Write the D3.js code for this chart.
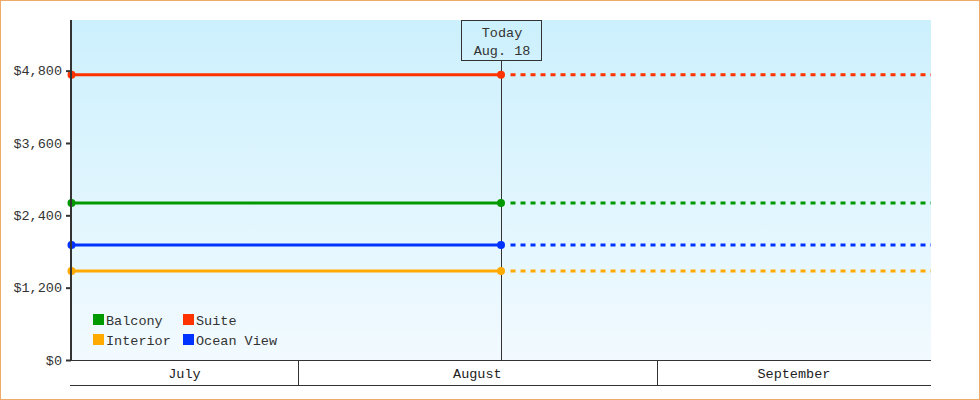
<!DOCTYPE html>
<html>
<head>
<meta charset="utf-8">
<script src="https://cdn.jsdelivr.net/npm/d3@7"></script>
<style>
  html, body { margin: 0; padding: 0; background: #fff; }
  svg { display: block; font-family: "Liberation Mono", monospace; }
</style>
</head>
<body>
<svg id="chart" width="980" height="400"></svg>
<script>
// data
const seriesNames = ['Balcony', 'Suite', 'Interior', 'Ocean View'];
const seriesColors = ['#009900', '#ff3300', '#ffaa00', '#0033ff'];
const seriesPrices = [2605, 4730, 1478, 1908];
const startDate = new Date(2023, 6, 12, 10);
const todayDate = new Date(2023, 7, 18, 12);
const endDate = new Date(2023, 8, 24, 16);
const yTicks = [0, 1200, 2400, 3600, 4800];
const months = [new Date(2023, 6, 1), new Date(2023, 7, 1), new Date(2023, 8, 1), new Date(2023, 9, 1)];
const todayLabel = ['Today', 'Aug. 18'];

const width = 980, height = 400;
const margin = { top: 20, right: 49, bottom: 40, left: 71 };
const font = '"Liberation Mono", monospace';
const svg = d3.select('#chart');

// outer border
svg.append('rect')
  .attr('x', 0.5).attr('y', 0.5)
  .attr('width', width - 1).attr('height', height - 1)
  .attr('fill', '#fff')
  .attr('stroke', '#eeaa66');

const x = d3.scaleTime()
  .domain([startDate, endDate])
  .range([margin.left, width - margin.right]);

const y = d3.scaleLinear()
  .domain([0, 5640])
  .range([height - margin.bottom, margin.top]);

// background gradient
const grad = svg.append('defs').append('linearGradient')
  .attr('id', 'bg').attr('x1', 0).attr('y1', 0).attr('x2', 0).attr('y2', 1);
grad.append('stop').attr('offset', '0%').attr('stop-color', '#ccf0fd');
grad.append('stop').attr('offset', '100%').attr('stop-color', '#f2faff');

svg.append('rect')
  .attr('x', margin.left).attr('y', margin.top)
  .attr('width', width - margin.right - margin.left)
  .attr('height', height - margin.bottom - margin.top)
  .attr('fill', 'url(#bg)');

// today marker
const tx = Math.round(x(todayDate));
svg.append('line')
  .attr('x1', tx + 0.5).attr('x2', tx + 0.5)
  .attr('y1', 60).attr('y2', y(0))
  .attr('stroke', '#333').attr('stroke-width', 1);

svg.append('rect')
  .attr('x', tx - 39.5).attr('y', margin.top + 0.5)
  .attr('width', 80).attr('height', 40)
  .attr('fill', 'none').attr('stroke', '#333');

svg.append('text')
  .attr('x', tx + 1).attr('y', 37)
  .attr('text-anchor', 'middle')
  .attr('font-size', 13.5).attr('fill', '#333')
  .text(todayLabel[0]);
svg.append('text')
  .attr('x', tx + 1).attr('y', 55)
  .attr('text-anchor', 'middle')
  .attr('font-size', 13.5).attr('fill', '#333')
  .text(todayLabel[1]);

// series
seriesNames.forEach((name, i) => {
  const py = y(seriesPrices[i]);
  svg.append('line')
    .attr('x1', x(startDate)).attr('x2', x(todayDate))
    .attr('y1', py).attr('y2', py)
    .attr('stroke', seriesColors[i]).attr('stroke-width', 3);
  svg.append('line')
    .attr('x1', x(todayDate) + 10).attr('x2', x(endDate))
    .attr('y1', py).attr('y2', py)
    .attr('stroke', seriesColors[i]).attr('stroke-width', 3)
    .attr('stroke-dasharray', '5,5');
  svg.selectAll(null)
    .data([startDate, todayDate])
    .enter()
    .append('circle')
    .attr('cx', d => x(d) + 0.5)
    .attr('cy', py)
    .attr('r', 4)
    .attr('fill', seriesColors[i]);
});

// y axis
const yAxis = svg.append('g')
  .attr('transform', `translate(${margin.left}, 0)`)
  .call(d3.axisLeft(y).tickValues(yTicks).tickSize(5).tickPadding(4)
    .tickFormat(d => '$' + d3.format(',')(d)));
yAxis.select('.domain').remove();
yAxis.selectAll('.tick line').attr('stroke', '#333').attr('stroke-width', 2);
yAxis.selectAll('.tick text')
  .attr('font-family', font)
  .attr('font-size', 13.5).attr('fill', '#333');

svg.append('line')
  .attr('x1', margin.left).attr('x2', margin.left)
  .attr('y1', margin.top).attr('y2', y(0) + 1)
  .attr('stroke', '#333').attr('stroke-width', 2);

// month band
const bandTop = y(0), bandBottom = y(0) + 25;
svg.append('line')
  .attr('x1', margin.left - 1).attr('x2', width - margin.right)
  .attr('y1', bandTop + 0.5).attr('y2', bandTop + 0.5)
  .attr('stroke', '#333').attr('stroke-width', 1.2);
svg.append('line')
  .attr('x1', margin.left - 1).attr('x2', width - margin.right)
  .attr('y1', bandBottom + 0.5).attr('y2', bandBottom + 0.5)
  .attr('stroke', '#333').attr('stroke-width', 1);

const monthFmt = d3.timeFormat('%B');
for (let i = 0; i < months.length - 1; i++) {
  const a = Math.max(x(months[i]), x(startDate));
  const b = Math.min(x(months[i + 1]), x(endDate));
  if (i > 0) {
    svg.append('line')
      .attr('x1', Math.round(a) + 0.5).attr('x2', Math.round(a) + 0.5)
      .attr('y1', bandTop).attr('y2', bandBottom)
      .attr('stroke', '#333');
  }
  svg.append('text')
    .attr('x', (a + b) / 2)
    .attr('y', bandTop + 18)
    .attr('text-anchor', 'middle')
    .attr('font-size', 13.5).attr('fill', '#222')
    .text(monthFmt(months[i]));
}

// legend
const legend = svg.append('g').attr('transform', 'translate(93, 314)');
seriesNames.forEach((name, i) => {
  const col = i % 2, row = Math.floor(i / 2);
  const g = legend.append('g').attr('transform', `translate(${col * 90}, ${row * 20})`);
  g.append('rect').attr('width', 11).attr('height', 11).attr('fill', seriesColors[i]);
  g.append('text')
    .attr('x', 13).attr('y', 10.5)
    .attr('font-size', 13.5).attr('fill', '#333')
    .text(name);
});
</script>
</body>
</html>
